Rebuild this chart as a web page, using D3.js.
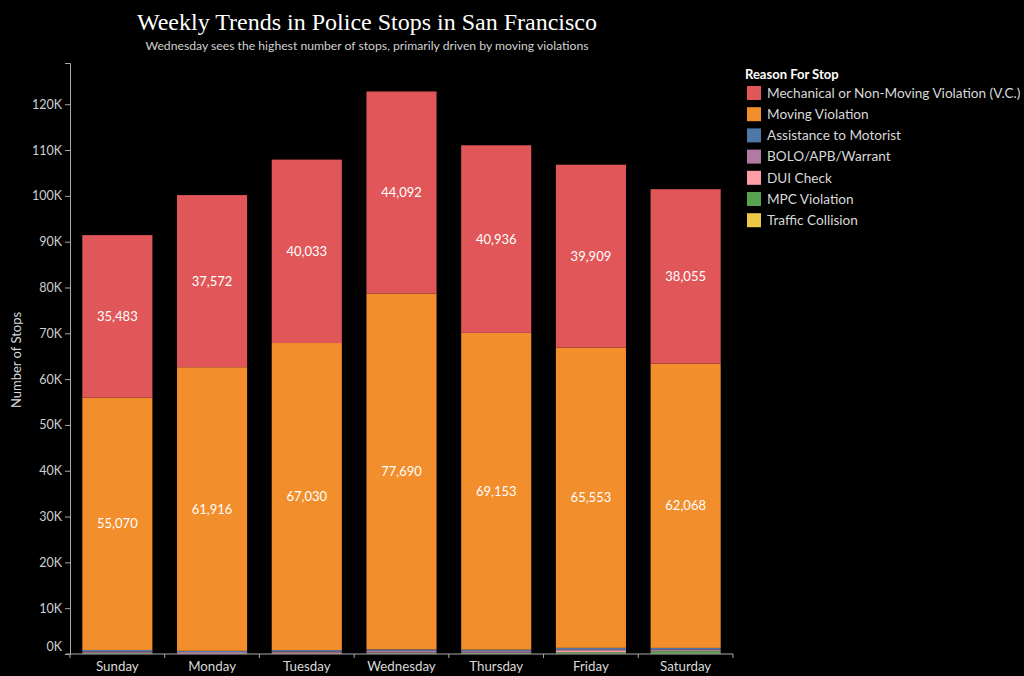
<!DOCTYPE html>
<html lang="en">
<head>
    <meta charset="UTF-8">
    <title>Weekly Trends in Police Stops</title>
    <script src="https://d3js.org/d3.v7.min.js"></script>
</head>
<body>
    <div id="container"></div>
</body>

<style>
body {
    margin: 0;
    background: #000;
}
svg text {
    font-family: Lato, "Noto Sans", sans-serif;
}
</style>

<script>
    // 数据
    const days = ["Sunday", "Monday", "Tuesday", "Wednesday", "Thursday", "Friday", "Saturday"]
    const reasons = ["Mechanical or Non-Moving Violation (V.C.)", "Moving Violation", "Assistance to Motorist",
        "BOLO/APB/Warrant", "DUI Check", "MPC Violation", "Traffic Collision"]
    const colors = ["#e15759", "#f28e2b", "#4e79a7", "#b07aa1", "#ff9da7", "#59a14f", "#edc948"]

    const mechanical = [35483, 37572, 40033, 44092, 40936, 39909, 38055]
    const moving = [55070, 61916, 67030, 77690, 69153, 65553, 62068]
    const assistance = [300, 250, 280, 330, 320, 300, 330]
    const bolo = [300, 250, 300, 350, 330, 380, 350]
    const dui = [40, 120, 150, 60, 50, 250, 30]
    const mpc = [200, 30, 80, 200, 200, 350, 560]
    const collision = [40, 30, 40, 60, 50, 60, 60]

    const yTicks = d3.range(0, 130000, 10000)

    const width = 1024
    const height = 676

    const svg = d3.select('#container')
        .append('svg')
        .attr('width', width)
        .attr('height', height)

    // 表格
    const seriesValues = [mechanical, moving, assistance, bolo, dui, mpc, collision]
    const table = days.map(function (d, i) {
        const row = {day: d}
        reasons.forEach(function (r, k) {
            row[r] = seriesValues[k][i]
        })
        return row
    })

    // 从底部往上堆叠: Traffic Collision 在最下面
    const stackKeys = reasons.slice().reverse()
    const stacked = d3.stack().keys(stackKeys)(table)

    const color = d3.scaleOrdinal().domain(reasons).range(colors)

    const x = d3.scaleBand()
        .domain(days)
        .range([70, 733])
        .paddingInner(0.26)
        .paddingOuter(0.13)

    const y = d3.scaleLinear()
        .domain([0, 129000])
        .range([654, 63])

    // 标题
    svg.append('text')
        .attr('x', 367)
        .attr('y', 30)
        .attr('text-anchor', 'middle')
        .attr('fill', '#fff')
        .style('font-family', '"Liberation Serif", serif')
        .style('font-size', '24px')
        .text('Weekly Trends in Police Stops in San Francisco')

    svg.append('text')
        .attr('x', 367)
        .attr('y', 50)
        .attr('text-anchor', 'middle')
        .attr('fill', '#d0d0d0')
        .style('font-size', '12.2px')
        .text('Wednesday sees the highest number of stops, primarily driven by moving violations')

    // 柱子
    const layers = svg.append('g')
        .selectAll('g')
        .data(stacked)
        .join('g')
        .attr('fill', function (d) { return color(d.key) })

    layers.selectAll('rect')
        .data(function (d) { return d })
        .join('rect')
        .attr('x', function (d) { return x(d.data.day) })
        .attr('width', x.bandwidth())
        .attr('y', function (d) { return y(d[1]) })
        .attr('height', function (d) { return y(d[0]) - y(d[1]) })

    // 数值标签, 只给两个大类
    stacked.filter(function (s) { return s.key === reasons[0] || s.key === reasons[1] })
        .forEach(function (s) {
            svg.append('g')
                .selectAll('text')
                .data(s)
                .join('text')
                .attr('x', function (d) { return x(d.data.day) + x.bandwidth() / 2 })
                .attr('y', function (d) { return (y(d[0]) + y(d[1])) / 2 })
                .attr('dy', '0.35em')
                .attr('text-anchor', 'middle')
                .attr('fill', '#fff')
                .style('font-size', '13px')
                .text(function (d) { return d3.format(',')(d[1] - d[0]) })
        })

    // y 轴
    const yAxis = svg.append('g')
        .attr('transform', 'translate(70,0)')
        .call(d3.axisLeft(y)
            .tickValues(yTicks)
            .tickSize(5)
            .tickFormat(function (d) { return (d / 1000) + 'K' }))
    yAxis.select('.domain').attr('stroke', '#aaa')
    yAxis.selectAll('.tick line').attr('stroke', '#aaa')
    yAxis.selectAll('.tick text')
        .attr('fill', '#cfcfcf')
        .style('font-size', '12.5px')
    yAxis.select('.tick:first-of-type text').attr('dy', '-0.25em')

    svg.append('text')
        .attr('transform', 'translate(21,360) rotate(-90)')
        .attr('text-anchor', 'middle')
        .attr('fill', '#d8d8d8')
        .style('font-size', '13px')
        .text('Number of Stops')

    // x 轴
    const xAxis = svg.append('g')
        .attr('transform', 'translate(0,654)')
    xAxis.append('line')
        .attr('x1', 66)
        .attr('x2', 733)
        .attr('stroke', '#aaa')
    const boundaries = [x.range()[0]].concat(days.map(function (d) {
        return x(d) + x.bandwidth() + x.step() * x.paddingInner() / 2
    }))
    boundaries[boundaries.length - 1] = x.range()[1]
    xAxis.selectAll('.tk')
        .data(boundaries)
        .join('line')
        .attr('x1', function (d) { return d })
        .attr('x2', function (d) { return d })
        .attr('y1', 0)
        .attr('y2', 4)
        .attr('stroke', '#aaa')
    xAxis.selectAll('.lbl')
        .data(days)
        .join('text')
        .attr('x', function (d) { return x(d) + x.bandwidth() / 2 })
        .attr('y', 17)
        .attr('text-anchor', 'middle')
        .attr('fill', '#d8d8d8')
        .style('font-size', '13.3px')
        .text(function (d) { return d })

    // 图例
    const legend = svg.append('g')
        .attr('transform', 'translate(745,0)')
    legend.append('text')
        .attr('x', 0)
        .attr('y', 79)
        .attr('fill', '#fff')
        .style('font-size', '13px')
        .style('font-weight', 'bold')
        .text('Reason For Stop')
    const items = legend.selectAll('.item')
        .data(reasons)
        .join('g')
        .attr('transform', function (d, i) { return 'translate(0,' + (86 + i * 21.2) + ')' })
    items.append('rect')
        .attr('x', 2)
        .attr('width', 14)
        .attr('height', 14)
        .attr('fill', function (d) { return color(d) })
    items.append('text')
        .attr('x', 22)
        .attr('y', 7)
        .attr('dy', '0.35em')
        .attr('fill', '#d8d8d8')
        .style('font-size', '13.6px')
        .text(function (d) { return d })
</script>
</html>
